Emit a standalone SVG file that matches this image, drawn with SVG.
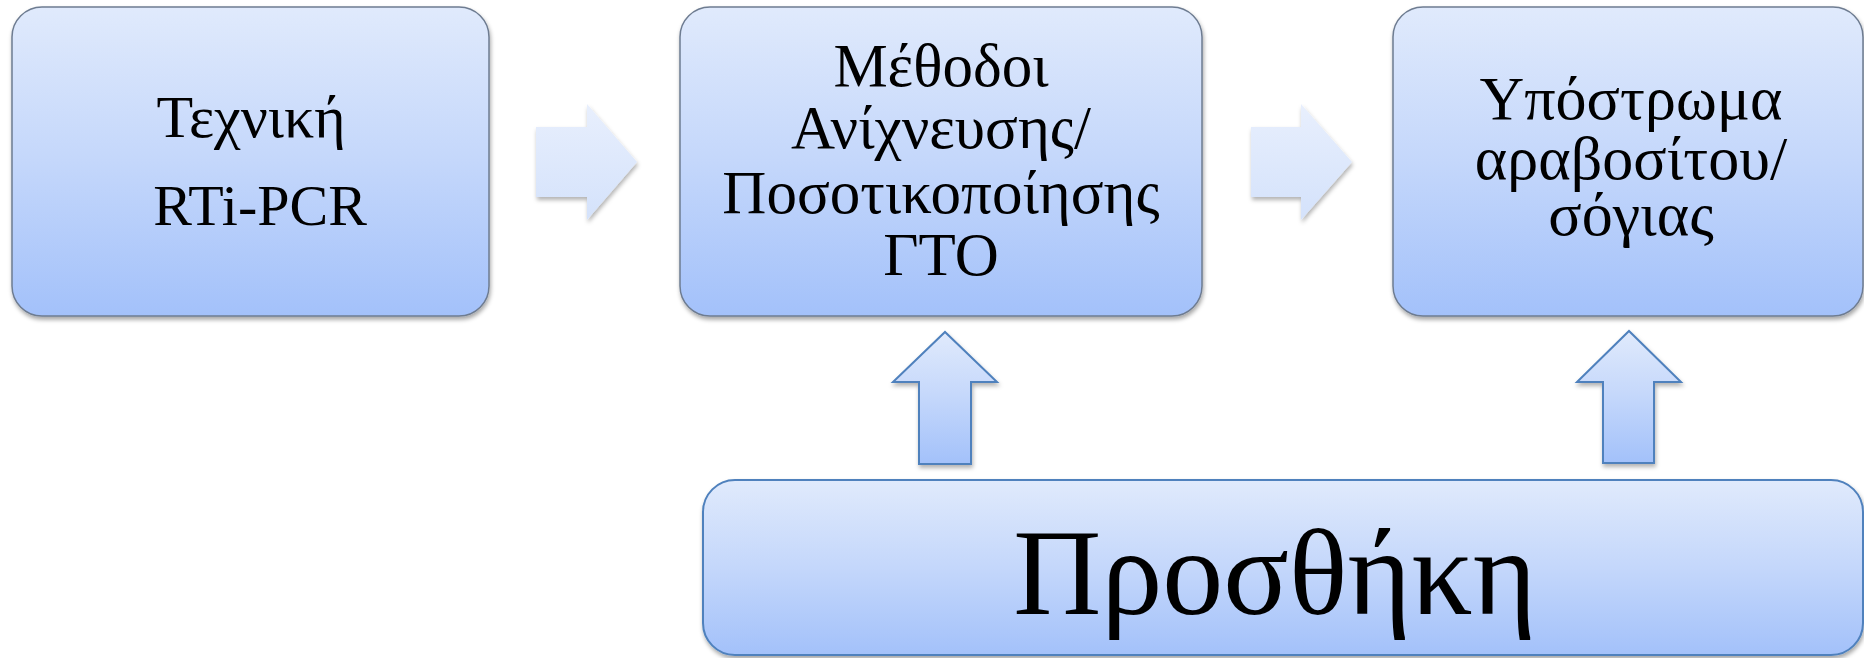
<svg xmlns="http://www.w3.org/2000/svg" width="1864" height="658" viewBox="0 0 1864 658">
<style>
.box{fill:url(#g);stroke:#6e7c91;stroke-width:1.5;filter:url(#sh)}
.box4{fill:url(#g);stroke:#4f81bd;stroke-width:2;filter:url(#sh)}
.t{font-family:"Liberation Serif","Times New Roman",serif;fill:#000;text-anchor:middle}
.ra{fill:url(#gp);filter:url(#sh2)}
.ua{fill:url(#g);stroke:#4f81bd;stroke-width:2;filter:url(#sh2)}
</style>
<defs>
<linearGradient id="g" x1="0" y1="0" x2="0" y2="1">
<stop offset="0" stop-color="#e0eafc"/>
<stop offset="0.5" stop-color="#c4d7fb"/>
<stop offset="1" stop-color="#a3c1fa"/>
</linearGradient>
<linearGradient id="gp" x1="0" y1="0" x2="0" y2="1">
<stop offset="0" stop-color="#e8effd"/>
<stop offset="1" stop-color="#d4e2fb"/>
</linearGradient>
<filter id="sh" x="-5%" y="-5%" width="110%" height="115%">
<feDropShadow dx="1" dy="3" stdDeviation="2" flood-color="#000" flood-opacity="0.35"/>
</filter>
<filter id="sh2" x="-10%" y="-10%" width="130%" height="130%">
<feDropShadow dx="1" dy="3" stdDeviation="2" flood-color="#000" flood-opacity="0.3"/>
</filter>
</defs>
<g id="connectors">
<path class="ra" d="M536,127 H587 V104 L637,162 L587,220 V197 H536 Z"/>
<path class="ra" d="M1251,127 H1301 V104 L1352,162 L1301,220 V197 H1251 Z"/>
<path class="ua" d="M919,464 V382 H893 L945,332 L997,382 H971 V464 Z"/>
<path class="ua" d="M1603,463 V382 H1577 L1629,331 L1681,382 H1654 V463 Z"/>
</g>
<g id="node-rtipcr">
<rect class="box" x="12" y="7" width="477" height="309" rx="30"/>
<text class="t" font-size="60" x="251" y="137">Τεχνική</text>
<text class="t" font-size="58" x="260" y="225">RTi-PCR</text>
</g>
<g id="node-methods">
<rect class="box" x="680" y="7" width="522" height="309" rx="30"/>
<text class="t" font-size="61" x="941" y="86">Μέθοδοι</text>
<text class="t" font-size="61" x="941" y="148">Ανίχνευσης/</text>
<text class="t" font-size="61" x="941" y="213">Ποσοτικοποίησης</text>
<text class="t" font-size="61" x="941" y="275">ΓΤΟ</text>
</g>
<g id="node-substrate">
<rect class="box" x="1393" y="7" width="470" height="309" rx="30"/>
<text class="t" font-size="62" x="1631" y="119">Υπόστρωμα</text>
<text class="t" font-size="62" x="1631" y="179">αραβοσίτου/</text>
<text class="t" font-size="62" x="1631" y="235">σόγιας</text>
</g>
<g id="node-addition">
<rect class="box4" x="703" y="480" width="1160" height="175" rx="32"/>
<text class="t" font-size="122" x="1275" y="614">Προσθήκη</text>
</g>
</svg>
